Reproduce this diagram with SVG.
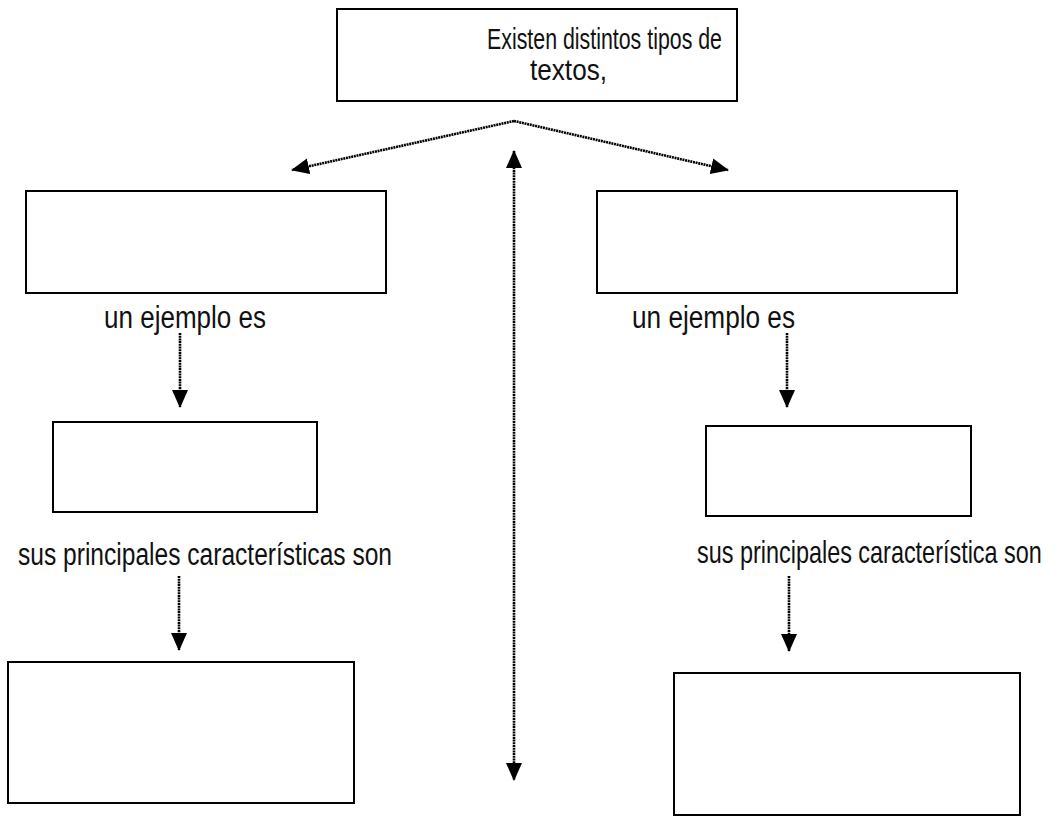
<svg xmlns="http://www.w3.org/2000/svg" width="1054" height="817" viewBox="0 0 1054 817">
<style>
.box{fill:#fff;stroke:#000;stroke-width:2}
.lbl{font-family:"Liberation Sans Narrow","Liberation Sans",Arial,sans-serif;font-size:31px;fill:#111}
.ttl{font-family:"Liberation Sans Narrow","Liberation Sans",Arial,sans-serif;font-size:29px;fill:#111}
.con{fill:none;stroke:#000;stroke-width:2.6;stroke-dasharray:2 0.7}
</style>
<defs>
<marker id="ah" markerUnits="userSpaceOnUse" markerWidth="18" markerHeight="18" viewBox="0 0 18 18" refX="17" refY="9" orient="auto-start-reverse">
<path d="M0,1 L18,9 L0,17 Z" fill="#000"/>
</marker>
</defs>
<rect width="1054" height="817" fill="#fff"/>
<g id="connectors">
<path class="con" d="M514,121 L292,170" marker-end="url(#ah)"/>
<path class="con" d="M514,121 L728,170" marker-end="url(#ah)"/>
<path class="con" d="M514,151 L514,780" marker-start="url(#ah)" marker-end="url(#ah)"/>
<path class="con" d="M180,333 L180,407" marker-end="url(#ah)"/>
<path class="con" d="M787,333 L787,407" marker-end="url(#ah)"/>
<path class="con" d="M179,576 L179,650" marker-end="url(#ah)"/>
<path class="con" d="M789,576 L789,651" marker-end="url(#ah)"/>
</g>
<g id="top">
<rect class="box" x="337" y="9" width="400" height="92"/>
<text class="ttl" x="487" y="49" textLength="235" lengthAdjust="spacingAndGlyphs">Existen distintos tipos de</text>
<text class="ttl" x="530" y="80" textLength="77" lengthAdjust="spacingAndGlyphs">textos,</text>
</g>
<g id="left1"><rect class="box" x="26" y="191" width="360" height="102"/></g>
<g id="right1"><rect class="box" x="597" y="191" width="360" height="102"/></g>
<g id="lbl-left1"><text class="lbl" x="104" y="328" textLength="162" lengthAdjust="spacingAndGlyphs">un ejemplo es</text></g>
<g id="lbl-right1"><text class="lbl" x="632" y="328" textLength="163" lengthAdjust="spacingAndGlyphs">un ejemplo es</text></g>
<g id="left2"><rect class="box" x="53" y="422" width="264" height="90"/></g>
<g id="right2"><rect class="box" x="706" y="426" width="265" height="90"/></g>
<g id="lbl-left2"><text class="lbl" x="18" y="565" textLength="374" lengthAdjust="spacingAndGlyphs">sus principales características son</text></g>
<g id="lbl-right2"><text class="lbl" transform="translate(697 563) scale(0.74 1)" x="0" y="0" textLength="466" lengthAdjust="spacingAndGlyphs">sus principales característica son</text></g>
<g id="left3"><rect class="box" x="8" y="662" width="346" height="141"/></g>
<g id="right3"><rect class="box" x="674" y="673" width="346" height="142"/></g>
</svg>
